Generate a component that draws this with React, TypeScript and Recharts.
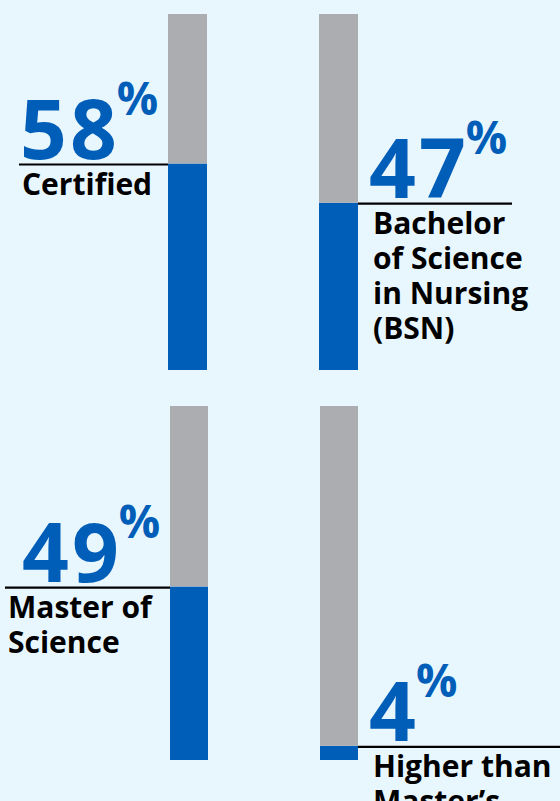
import React from 'react'
import { BarChart, Bar, XAxis, YAxis, LabelList } from 'recharts'

// share of respondents, percent
const topCategories = ['Certified', 'BSN']
const topValues = [58, 47]
const bottomCategories = ['Master of Science', 'Higher than Master’s']
const bottomValues = [49, 4]

// label lines drawn under each figure
const topLabels = [['Certified'], ['Bachelor', 'of Science', 'in Nursing', '(BSN)']]
const bottomLabels = [['Master of', 'Science'], ['Higher than', 'Master’s']]

const BLUE = '#005eb8'
const GREY = '#acadb1'
const BG = '#e8f6fe'
const FONT = '"Open Sans", "Noto Sans", sans-serif'

const buildRows = (cats: string[], vals: number[]) =>
    cats.map((c, i) => ({ name: c, value: vals[i], rest: 100 - vals[i] }))

type RowProps = {
    cats: string[],
    vals: number[],
    labels: string[][],
    height: number,
    margin: { top: number, bottom: number, left: number, right: number },
    barSize: number,
    rules: number[],
}

const Row = ({ cats, vals, labels, height, margin, barSize, rules }: RowProps) => {
    const data = buildRows(cats, vals)

    const renderLabel = (props: any) => {
        const { x, y, width, index, value } = props
        const left = index === 0
        const ly = y
        const rule = rules[index]
        const x1 = left ? x - rule : x + width
        const x2 = left ? x : x + width + rule
        const numX = left ? x - 148 : x + width + 11
        const txtX = left ? x1 + 3 : x + width + 15
        return (
            <g>
                <line x1={x1} x2={x2} y1={ly + 1} y2={ly + 1} stroke='#000' strokeWidth={2.2} />
                <text x={numX} y={ly - 5} fill={BLUE} fontFamily={FONT} fontWeight={700} fontSize={82} letterSpacing={3}>
                    <tspan>{value}</tspan>
                    <tspan fontSize={46} dy={-44} dx={-3} letterSpacing={0}>%</tspan>
                </text>
                {labels[index].map((line, j) => (
                    <text key={j} x={txtX} y={ly + 31 + j * 35} fill='#000' fontFamily={FONT} fontWeight={700} fontSize={30}>
                        {line}
                    </text>
                ))}
            </g>
        )
    }

    return (
        <BarChart width={560} height={height} data={data} margin={margin} barGap={0}>
            <XAxis dataKey='name' hide />
            <YAxis hide domain={[0, 100]} />
            <Bar dataKey='value' stackId='a' fill={BLUE} barSize={barSize} isAnimationActive={false}>
                <LabelList dataKey='value' content={renderLabel} />
            </Bar>
            <Bar dataKey='rest' stackId='a' fill={GREY} barSize={barSize} isAnimationActive={false} />
        </BarChart>
    )
}

export default function App() {
    return (
        <div style={{ position: 'absolute', left: 0, top: 0, width: 560, height: 801, background: BG, overflow: 'hidden' }}>
            <Row
                cats={topCategories}
                vals={topValues}
                labels={topLabels}
                height={400}
                margin={{ top: 14, bottom: 30, left: 112, right: 146 }}
                barSize={39}
                rules={[149, 154]}
            />
            <Row
                cats={bottomCategories}
                vals={bottomValues}
                labels={bottomLabels}
                height={401}
                margin={{ top: 6, bottom: 41, left: 114, right: 146 }}
                barSize={38}
                rules={[165, 210]}
            />
        </div>
    )
}
